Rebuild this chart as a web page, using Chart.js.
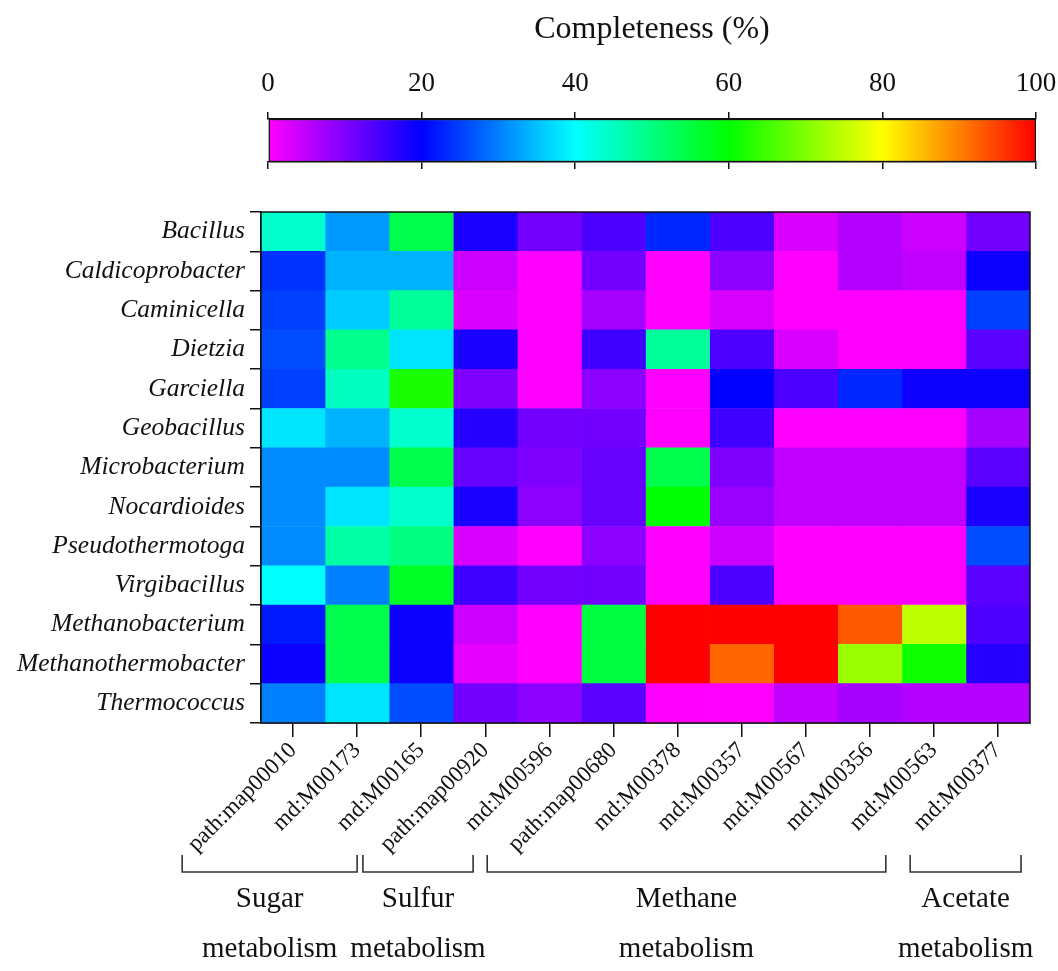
<!DOCTYPE html>
<html>
<head>
<meta charset="utf-8">
<title>Pathway completeness by genus</title>
<script src="https://cdn.jsdelivr.net/npm/chart.js@4.4.1/dist/chart.umd.min.js"></script>
<style>
  html, body { margin: 0; padding: 0; background: #fff; }
  #wrap { position: relative; width: 1058px; height: 971px; overflow: hidden; }
  canvas { position: absolute; left: 0; }
  #scaleBar { top: 0; }
  #heat { top: 194px; }
</style>
</head>
<body>
<div id="wrap">
  <canvas id="heat" width="1058" height="777"></canvas>
  <canvas id="scaleBar" width="1058" height="190"></canvas>
</div>
<script>
// KEGG pathways / modules (columns)
const pathways = ['path:map00010', 'md:M00173', 'md:M00165', 'path:map00920', 'md:M00596', 'path:map00680',
                  'md:M00378', 'md:M00357', 'md:M00567', 'md:M00356', 'md:M00563', 'md:M00377'];

// Genera (rows, top to bottom)
const genera = ['Bacillus', 'Caldicoprobacter', 'Caminicella', 'Dietzia', 'Garciella', 'Geobacillus',
                'Microbacterium', 'Nocardioides', 'Pseudothermotoga', 'Virgibacillus',
                'Methanobacterium', 'Methanothermobacter', 'Thermococcus'];

// Module completeness (%) per genus, in the column order above
const bacillus            = [44, 32, 54, 18, 11, 14, 23, 14, 3, 6, 4, 11];
const caldicoprobacter    = [24, 34, 34, 4, 0, 11, 0, 9, 0, 6, 5, 19];
const caminicella         = [25, 36, 48, 3, 0, 7, 0, 3, 0, 0, 0, 25];
const dietzia             = [26, 49, 38, 18, 0, 15, 48, 14, 3, 0, 0, 13];
const garciella           = [25, 45, 62, 10, 0, 9, 0, 20, 14, 23, 19, 19];
const geobacillus         = [38, 34, 44, 17, 11, 11, 0, 15, 0, 0, 0, 7];
const microbacterium      = [31, 31, 54, 12, 10, 12, 54, 10, 5, 5, 5, 13];
const nocardioides        = [31, 38, 44, 18, 9, 12, 60, 8, 5, 5, 5, 18];
const pseudothermotoga    = [31, 47, 50, 3, 0, 9, 0, 4, 0, 0, 0, 26];
const virgibacillus       = [40, 30, 57, 15, 11, 11, 0, 14, 0, 0, 0, 13];
const methanobacterium    = [22, 54, 19, 4, 0, 55, 100, 100, 100, 93, 75, 14];
const methanothermobacter = [19, 54, 19, 2, 0, 55, 100, 92, 100, 72, 61, 17];
const thermococcus        = [30, 38, 26, 11, 9, 13, 0, 0, 5, 7, 6, 6];

const completeness = [bacillus, caldicoprobacter, caminicella, dietzia, garciella, geobacillus,
                      microbacterium, nocardioides, pseudothermotoga, virgibacillus,
                      methanobacterium, methanothermobacter, thermococcus];

// Colour bar ticks and metabolism groups along the bottom
const scaleTicks = [0, 20, 40, 60, 80, 100];
const groupNames = [['Sugar', 'metabolism'], ['Sulfur', 'metabolism'], ['Methane', 'metabolism'], ['Acetate', 'metabolism']];

const SERIF = "'Liberation Serif', 'Times New Roman', serif";
Chart.defaults.font.family = SERIF;
Chart.defaults.color = '#111';

// rainbow colour map: magenta -> blue -> cyan -> green -> yellow -> red
const rampStops = [[255, 0, 255], [0, 0, 255], [0, 255, 255], [0, 255, 0], [255, 255, 0], [255, 0, 0]];
function rampColor(v) {
  const t = Math.max(0, Math.min(100, v)) / 20;
  const i = Math.min(4, Math.floor(t));
  const f = t - i;
  const a = rampStops[i], b = rampStops[i + 1];
  const c = a.map((x, k) => Math.round(x + (b[k] - x) * f));
  return `rgb(${c[0]},${c[1]},${c[2]})`;
}

// ---------- colour bar ----------
new Chart(document.getElementById('scaleBar'), {
  type: 'bar',
  data: {
    labels: ['scale'],
    datasets: [{
      data: [[scaleTicks[0], scaleTicks[scaleTicks.length - 1]]],
      backgroundColor: (ctx) => {
        const chart = ctx.chart;
        if (!chart.chartArea) return '#fff';
        const x = chart.scales.x;
        const g = chart.ctx.createLinearGradient(x.getPixelForValue(0), 0, x.getPixelForValue(100), 0);
        rampStops.forEach((c, i) => g.addColorStop(i / 5, `rgb(${c[0]},${c[1]},${c[2]})`));
        return g;
      },
      borderColor: '#111',
      borderWidth: 1.5,
      borderSkipped: false,
      barPercentage: 1,
      categoryPercentage: 1
    }]
  },
  options: {
    indexAxis: 'y',
    responsive: false,
    animation: false,
    events: [],
    layout: { padding: { left: 268, right: 22, top: 0, bottom: 0 } },
    plugins: { legend: { display: false }, tooltip: { enabled: false } },
    scales: {
      y: { display: false },
      x: {
        type: 'linear', position: 'top', min: 0, max: 100,
        afterBuildTicks: (s) => { s.ticks = scaleTicks.map(v => ({ value: v })); },
        afterFit: (s) => { s.height = 119; s.paddingLeft = 0; s.paddingRight = 0; },
        ticks: { font: { size: 27 }, color: '#111', padding: 12 },
        grid: { drawOnChartArea: false, drawTicks: true, tickLength: 7, color: '#111', lineWidth: 1.5 },
        border: { display: true, color: '#111', width: 1.5 },
        title: { display: true, text: 'Completeness (%)', font: { size: 32 }, color: '#111', padding: { top: 10, bottom: 0 } }
      },
      x2: {
        type: 'linear', position: 'bottom', min: 0, max: 100,
        afterBuildTicks: (s) => { s.ticks = scaleTicks.map(v => ({ value: v })); },
        afterFit: (s) => { s.height = 28; s.paddingLeft = 0; s.paddingRight = 0; },
        ticks: { callback: () => '' },
        grid: { drawOnChartArea: false, drawTicks: true, tickLength: 7, color: '#111', lineWidth: 1.5 },
        border: { display: true, color: '#111', width: 1.5 }
      }
    }
  }
});

// ---------- heatmap ----------
// frame around the cell grid
const framePlugin = {
  id: 'frame',
  afterDatasetsDraw(chart) {
    const { ctx, chartArea: a } = chart;
    ctx.save();
    ctx.strokeStyle = '#111';
    ctx.lineWidth = 1.5;
    ctx.strokeRect(a.left, a.top, a.right - a.left, a.bottom - a.top);
    ctx.restore();
  }
};

// brackets and labels grouping the columns by metabolism
const bracketSpans = [[-1.23, 1.5], [1.59, 3.31], [3.53, 9.75], [10.13, 11.86]];
const groupPlugin = {
  id: 'groups',
  afterDraw(chart) {
    const { ctx, chartArea: a, scales: { x } } = chart;
    const yTop = a.bottom + 132, yBot = a.bottom + 149;
    ctx.save();
    ctx.strokeStyle = '#333';
    ctx.lineWidth = 1.6;
    ctx.fillStyle = '#111';
    ctx.font = `29px ${SERIF}`;
    ctx.textAlign = 'center';
    ctx.textBaseline = 'middle';
    bracketSpans.forEach(([s, e], i) => {
      const x0 = x.getPixelForValue(s), x1 = x.getPixelForValue(e);
      ctx.beginPath();
      ctx.moveTo(x0, yTop); ctx.lineTo(x0, yBot); ctx.lineTo(x1, yBot); ctx.lineTo(x1, yTop);
      ctx.stroke();
      const cx = (x0 + x1) / 2;
      ctx.fillText(groupNames[i][0], cx, a.bottom + 176);
      ctx.fillText(groupNames[i][1], cx, a.bottom + 226);
    });
    ctx.restore();
  }
};

new Chart(document.getElementById('heat'), {
  type: 'bar',
  data: {
    labels: genera,
    datasets: pathways.map((p, col) => ({
      label: p,
      data: genera.map(() => 1),
      backgroundColor: completeness.map(row => rampColor(row[col])),
      borderWidth: 0,
      barPercentage: 1,
      categoryPercentage: 1
    }))
  },
  options: {
    indexAxis: 'y',
    responsive: false,
    animation: false,
    events: [],
    layout: { padding: { left: 0, right: 28, top: 18, bottom: 0 } },
    plugins: { legend: { display: false }, tooltip: { enabled: false } },
    scales: {
      x: {
        type: 'linear', stacked: true, min: 0, max: pathways.length,
        afterBuildTicks: (s) => { s.ticks = pathways.map((_, i) => ({ value: i + 0.5 })); },
        afterFit: (s) => { s.height = 248; },
        ticks: {
          autoSkip: false, minRotation: 45, maxRotation: 45,
          font: { size: 23 }, color: '#111', padding: 0,
          callback: (v, i) => pathways[i]
        },
        grid: { drawOnChartArea: false, drawTicks: true, tickLength: 14, color: '#111', lineWidth: 1.5 },
        border: { display: true, color: '#111', width: 1.5 }
      },
      y: {
        type: 'category', stacked: true,
        afterFit: (s) => { s.width = 261; s.paddingTop = 0; s.paddingBottom = 0; },
        ticks: { font: { size: 25.5, style: 'italic' }, color: '#111', padding: 5 },
        grid: { drawOnChartArea: false, drawTicks: true, tickLength: 11, color: '#111', lineWidth: 1.5, offset: true },
        border: { display: true, color: '#111', width: 1.5 }
      }
    }
  },
  plugins: [framePlugin, groupPlugin]
});
</script>
</body>
</html>
